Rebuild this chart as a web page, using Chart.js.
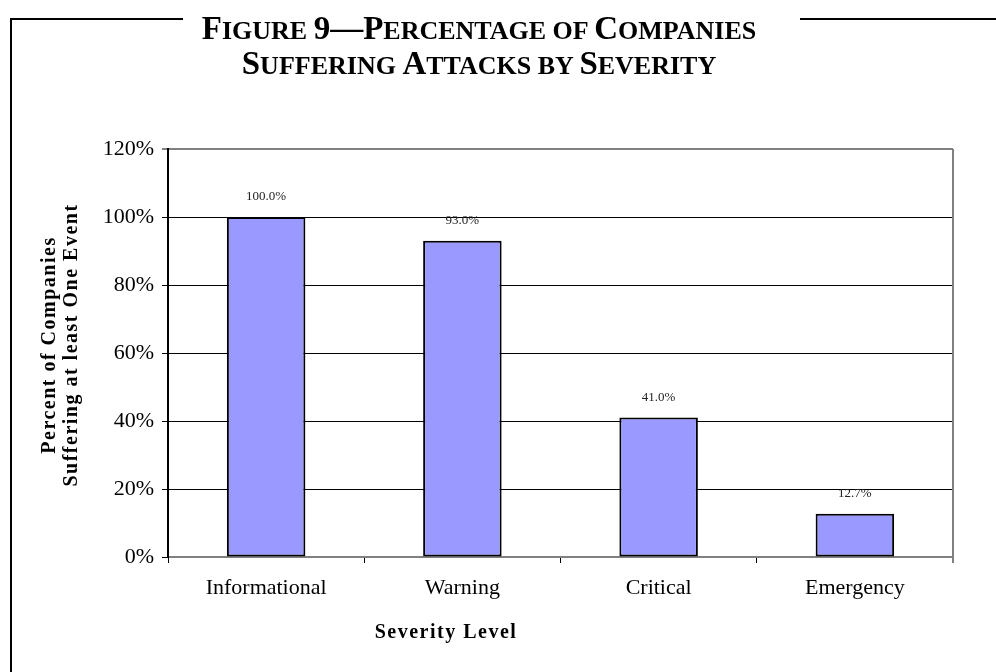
<!doctype html>
<html>
<head>
<title>Figure 9</title>
<script src="https://cdn.jsdelivr.net/npm/chart.js@4"></script>
<style>
  html, body { margin: 0; padding: 0; background: #fff; }
  #wrap { position: relative; width: 996px; height: 672px; overflow: hidden; }
  #chartBox { position: absolute; left: 0; top: 0; width: 996px; height: 672px; }
  .frame { position: absolute; background: #000; }
  #title {
    position: absolute; left: 0; top: 12px; width: 958px;
    text-align: center; font-family: "Liberation Serif", "Times New Roman", serif;
    font-weight: bold; font-size: 26px; line-height: 32px; text-transform: uppercase;
    color: #000;
  }
  #title .cap { font-size: 33px; }
</style>
</head>
<body>
<div id="wrap">
  <div class="frame" style="left:10px; top:18px; width:173px; height:2px;"></div>
  <div class="frame" style="left:800px; top:18px; width:196px; height:2px;"></div>
  <div class="frame" style="left:10px; top:18px; width:2px; height:660px;"></div>
  <div id="chartBox"><canvas id="canvas1"></canvas></div>
  <div id="title"><span class="cap">F</span>igure <span class="cap">9—P</span>ercentage of <span class="cap">C</span>ompanies<br><span class="cap">S</span>uffering <span class="cap">A</span>ttacks by <span class="cap">S</span>everity</div>
</div>
<script>
// 数据
var levels = ['Informational', 'Warning', 'Critical', 'Emergency'];
var pctCompanies = [100.0, 93.0, 41.0, 12.7];
var yTicks = [0, 20, 40, 60, 80, 100, 120];
var xTitle = 'Severity Level';
var yTitle = ['Percent of Companies', 'Suffering at least One Event'];

var serif = '"Liberation Serif", "Times New Roman", serif';

// 柱顶数值 + 坐标轴标题 + 右边框
var extras = {
    id: 'extras',
    afterDatasetsDraw: function(chart) {
        var ctx = chart.ctx;
        var area = chart.chartArea;
        ctx.save();
        // right border
        ctx.strokeStyle = '#808080';
        ctx.lineWidth = 2;
        ctx.beginPath();
        ctx.moveTo(area.right, area.top);
        ctx.lineTo(area.right, area.bottom + 6);
        ctx.stroke();

        // value labels
        ctx.font = '13px ' + serif;
        ctx.fillStyle = '#222';
        ctx.textAlign = 'center';
        ctx.textBaseline = 'middle';
        var meta = chart.getDatasetMeta(0);
        meta.data.forEach(function(bar, i) {
            ctx.fillText(pctCompanies[i].toFixed(1) + '%', bar.x, bar.y - 20);
        });

        // axis titles
        ctx.fillStyle = '#000';
        ctx.font = 'bold 20px ' + serif;
        ctx.letterSpacing = '1.5px';
        ctx.textBaseline = 'alphabetic';
        ctx.fillText(xTitle, 446, 638);

        ctx.translate(0, 345);
        ctx.rotate(-Math.PI / 2);
        ctx.fillText(yTitle[0], 0, 55);
        ctx.fillText(yTitle[1], 0, 77);
        ctx.restore();
    }
};

window.onload = function() {
    var ctx1 = document.getElementById('canvas1').getContext('2d');
    window.myBar = new Chart(ctx1, {
        type: 'bar',
        data: {
            labels: levels,
            datasets: [{
                label: 'Percent',
                data: pctCompanies,
                backgroundColor: '#9999ff',
                borderColor: '#000',
                borderWidth: 2,
                borderSkipped: false,
                barPercentage: 0.4,
                categoryPercentage: 1.0
            }]
        },
        options: {
            responsive: true,
            maintainAspectRatio: false,
            animation: false,
            layout: { padding: { left: 0, top: 149, right: 43, bottom: 0 } },
            plugins: {
                legend: { display: false },
                title: { display: false },
                tooltip: { enabled: false }
            },
            scales: {
                x: {
                    afterFit: function(scale) { scale.height = 672 - 557; },
                    grid: {
                        offset: true,
                        drawOnChartArea: false,
                        drawTicks: true,
                        tickLength: 6,
                        color: '#000'
                    },
                    border: { color: '#808080', width: 2 },
                    ticks: {
                        font: { family: serif, size: 22 },
                        color: '#000',
                        padding: 12
                    }
                },
                y: {
                    min: 0,
                    max: 120,
                    afterFit: function(scale) { scale.width = 168; },
                    afterBuildTicks: function(scale) {
                        scale.ticks = yTicks.map(function(v) { return { value: v }; });
                    },
                    grid: {
                        color: function(c) { return c.tick && c.tick.value === 120 ? '#808080' : '#000'; },
                        lineWidth: function(c) { return c.tick && c.tick.value === 120 ? 2 : 1; },
                        tickLength: 6
                    },
                    border: { color: '#000', width: 2 },
                    ticks: {
                        font: { family: serif, size: 22 },
                        color: '#000',
                        padding: 8,
                        callback: function(v) { return v + '%'; }
                    }
                }
            }
        },
        plugins: [extras]
    });
};
</script>
</body>
</html>
